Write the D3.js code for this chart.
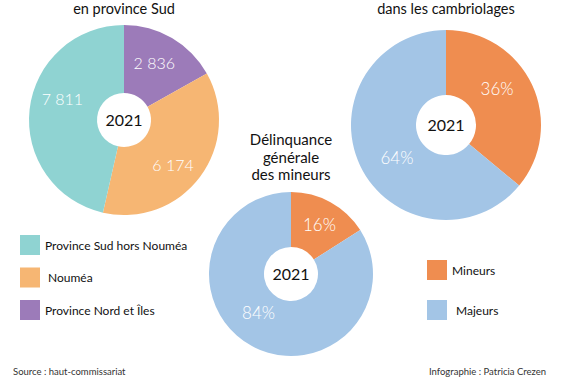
<!DOCTYPE html>
<html>
<head>
<meta charset="utf-8">
<script src="https://cdn.jsdelivr.net/npm/d3@7"></script>
<style>
  body { margin: 0; background: #fff; }
  svg { display: block; font-family: "Lato", "Open Sans", sans-serif; }
</style>
</head>
<body>
<div id="chart"></div>
<script>
// Data
const provinceLabels = ['Province Nord et Îles', 'Nouméa', 'Province Sud hors Nouméa'];
const provinceValues = [2836, 6174, 7811];
const provinceColors = ['#9c7bb9', '#f6b673', '#8fd3d2'];

const ageLabels = ['Mineurs', 'Majeurs'];
const cambriolageValues = [36, 64];
const mineursValues = [16, 84];
const ageColors = ['#ef8d50', '#a3c5e6'];

const yearLabel = '2021';

const width = 565, height = 377;

const svg = d3.select('#chart')
  .append('svg')
  .attr('width', width)
  .attr('height', height);

// Format thousands with a space, French style
const fmtNum = v => d3.format(',')(v).replace(/,/g, ' ');

// Draw a donut with labels placed along a given radius
function drawDonut(opts) {
  const g = svg.append('g').attr('transform', `translate(${opts.cx},${opts.cy})`);
  const pie = d3.pie().sort(null).value(d => d)(opts.values);
  const arc = d3.arc().innerRadius(opts.inner).outerRadius(opts.outer);
  const labelArc = d3.arc().innerRadius(opts.labelR).outerRadius(opts.labelR);

  g.selectAll('path')
    .data(pie)
    .enter()
    .append('path')
    .attr('d', arc)
    .attr('fill', (d, i) => opts.colors[i]);

  g.selectAll('text.val')
    .data(pie)
    .enter()
    .append('text')
    .attr('class', 'val')
    .attr('transform', (d, i) => {
      const c = labelArc.centroid(d);
      const off = opts.offsets ? opts.offsets[i] : [0, 0];
      return `translate(${c[0] + off[0]},${c[1] + off[1]})`;
    })
    .attr('text-anchor', 'middle')
    .attr('dy', '0.35em')
    .attr('fill', '#fff')
    .attr('font-size', opts.labelSize)
    .attr('font-weight', 300)
    .text(d => opts.format(d.data));

  g.append('text')
    .attr('text-anchor', 'middle')
    .attr('dy', '0.36em')
    .attr('font-size', 16)
    .attr('fill', '#111')
    .text(yearLabel);
}

drawDonut({
  cx: 124, cy: 120, outer: 95, inner: 27, labelR: 60, labelSize: 16,
  values: provinceValues, colors: provinceColors,
  format: fmtNum,
  offsets: [[0, -5], [1, 9], [-2, -14]]
});

drawDonut({
  cx: 446, cy: 125, outer: 95, inner: 30, labelR: 62, labelSize: 17,
  values: cambriolageValues, colors: ageColors,
  format: v => v + '%',
  offsets: [[-5, -10], [7, 7]]
});

drawDonut({
  cx: 291, cy: 274, outer: 82, inner: 27, labelR: 55, labelSize: 17,
  values: mineursValues, colors: ageColors,
  format: v => v + '%',
  offsets: [[2, -1], [-6, -9]]
});

// Titles
function title(lines, x, y0, size) {
  const t = svg.append('text')
    .attr('text-anchor', 'middle')
    .attr('font-size', size)
    .attr('fill', '#111');
  lines.forEach((l, i) => {
    t.append('tspan').attr('x', x).attr('y', y0 + i * 17.5).text(l);
  });
}
title(['en province Sud'], 124, 13.5, 14.5);
title(['dans les cambriolages'], 446, 13.5, 14.5);
title(['Délinquance', 'générale', 'des mineurs'], 291, 145, 15);

// Left legend
const legLeft = svg.append('g');
const leftOrder = [2, 1, 0];
const leftTextX = [45, 48, 45];
leftOrder.forEach((k, i) => {
  const y = 235 + i * 32.5;
  legLeft.append('rect')
    .attr('x', 20).attr('y', y).attr('width', 20).attr('height', 20)
    .attr('fill', provinceColors[k]);
  legLeft.append('text')
    .attr('x', leftTextX[i]).attr('y', y + 14.5)
    .attr('font-size', 12).attr('fill', '#111')
    .text(provinceLabels[k]);
});

// Right legend
const legRight = svg.append('g');
const rightTextX = [452, 456];
ageLabels.forEach((lab, i) => {
  const y = 260 + i * 40;
  legRight.append('rect')
    .attr('x', 427).attr('y', y).attr('width', 20).attr('height', 20)
    .attr('fill', ageColors[i]);
  legRight.append('text')
    .attr('x', rightTextX[i]).attr('y', y + 14.5)
    .attr('font-size', 12).attr('fill', '#111')
    .text(lab);
});

// Footer
svg.append('text')
  .attr('x', 13).attr('y', 375)
  .attr('font-size', 9.5).attr('fill', '#333')
  .text('Source : haut-commissariat');
svg.append('text')
  .attr('x', 546).attr('y', 375)
  .attr('text-anchor', 'end')
  .attr('font-size', 9.5).attr('fill', '#333')
  .text('Infographie : Patricia Crezen');
</script>
</body>
</html>
